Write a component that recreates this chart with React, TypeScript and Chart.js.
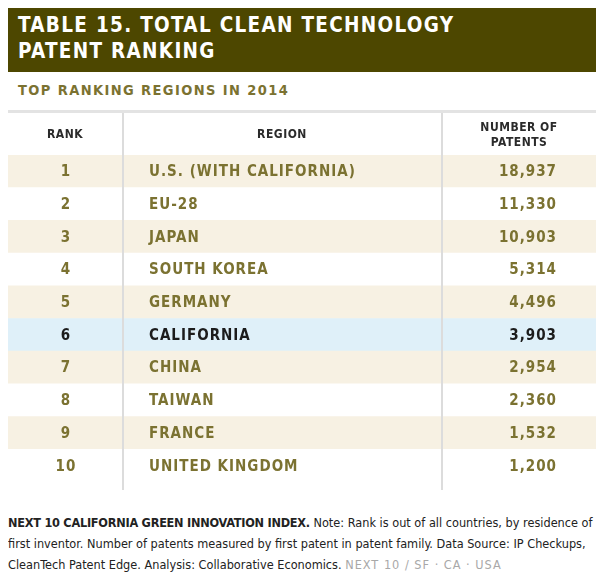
import React, { useEffect, useRef } from "react";
import { Chart, registerables } from "chart.js";

Chart.register(...registerables);

const ranks = ["1", "2", "3", "4", "5", "6", "7", "8", "9", "10"];
const regions = [
  "U.S. (WITH CALIFORNIA)",
  "EU-28",
  "JAPAN",
  "SOUTH KOREA",
  "GERMANY",
  "CALIFORNIA",
  "CHINA",
  "TAIWAN",
  "FRANCE",
  "UNITED KINGDOM",
];
const patents = [18937, 11330, 10903, 5314, 4496, 3903, 2954, 2360, 1532, 1200];
const highlightRegion = "CALIFORNIA";
const headers = ["RANK", "REGION", ["NUMBER OF", "PATENTS"]];

const FONT = "'DejaVu Sans Condensed', 'DejaVu Sans', sans-serif";
const OLIVE = "#7b7231";
const CREAM = "#f7f1e3";
const BLUE = "#dff0f9";
const LINE = "#dcdcdc";

const tablePlugin = {
  id: "tableText",
  afterDatasetsDraw(chart: any) {
    const ctx = chart.ctx as CanvasRenderingContext2D;
    const y = chart.scales.y;
    const area = chart.chartArea;
    const W = chart.width;
    const col1 = 114;
    const col2 = 433;
    ctx.save();
    // top border
    ctx.fillStyle = "#e3e3e3";
    ctx.fillRect(0, 0, W, 3);
    // vertical lines
    ctx.fillStyle = LINE;
    ctx.fillRect(col1, 3, 2, area.bottom + 8 - 3);
    ctx.fillRect(col2, 3, 2, area.bottom + 8 - 3);
    // header
    ctx.fillStyle = "#2b2b2b";
    ctx.font = `bold 12px ${FONT}`;
    (ctx as any).letterSpacing = "0.5px";
    ctx.textAlign = "center";
    ctx.textBaseline = "middle";
    const hy = (3 + area.top) / 2 + 1;
    ctx.fillText(headers[0] as string, 57, hy);
    ctx.fillText(headers[1] as string, 274, hy);
    const h2 = headers[2] as string[];
    ctx.fillText(h2[0], 511, hy - 7);
    ctx.fillText(h2[1], 511, hy + 8);
    // rows
    ctx.font = `bold 15px ${FONT}`;
    (ctx as any).letterSpacing = "1px";
    regions.forEach((r, i) => {
      const py = y.getPixelForValue(i) + 1;
      ctx.fillStyle = r === highlightRegion ? "#1c1c1c" : OLIVE;
      ctx.textAlign = "center";
      ctx.fillText(ranks[i], 58, py);
      ctx.textAlign = "left";
      ctx.fillText(r, 141, py);
      ctx.textAlign = "right";
      ctx.fillText(patents[i].toLocaleString("en-US"), 549, py);
    });
    ctx.restore();
  },
};

function TableChart() {
  const ref = useRef<HTMLCanvasElement>(null);
  useEffect(() => {
    if (!ref.current) return;
    const chart = new Chart(ref.current, {
      type: "bar",
      data: {
        labels: ranks,
        datasets: [
          {
            data: regions.map(() => 1),
            backgroundColor: regions.map((r, i) =>
              r === highlightRegion ? BLUE : i % 2 === 0 ? CREAM : "#ffffff"
            ),
            borderWidth: 0,
            barPercentage: 1,
            categoryPercentage: 1,
          },
        ],
      },
      options: {
        indexAxis: "y",
        animation: false,
        responsive: false,
        maintainAspectRatio: false,
        layout: { padding: { top: 45, bottom: 10, left: 0, right: 0 } },
        plugins: { legend: { display: false }, tooltip: { enabled: false } },
        events: [],
        scales: {
          x: { display: false, min: 0, max: 1 },
          y: { display: false },
        },
      },
      plugins: [tablePlugin],
    });
    return () => chart.destroy();
  }, []);
  return <canvas ref={ref} width={588} height={382} style={{ display: "block" }} />;
}

export default function App() {
  return (
    <div style={{ width: 588, fontFamily: FONT }}>
      <div
        style={{
          marginTop: -3,
          height: 67,
          boxSizing: "border-box",
          background: "#4d4700",
          color: "#ffffff",
          fontWeight: "bold",
          fontSize: 20.5,
          letterSpacing: "1.3px",
          lineHeight: "26px",
          paddingTop: 7,
          paddingLeft: 10,
        }}
      >
        TABLE 15. TOTAL CLEAN TECHNOLOGY
        <br />
        PATENT RANKING
      </div>
      <div
        style={{
          height: 38,
          lineHeight: "36px",
          paddingLeft: 10,
          color: OLIVE,
          fontWeight: "bold",
          fontSize: 14.5,
          letterSpacing: "1.4px",
        }}
      >
        TOP RANKING REGIONS IN 2014
      </div>
      <TableChart />
      <div
        style={{
          marginTop: 20,
          fontSize: 12.6,
          lineHeight: "21px",
          color: "#222",
          whiteSpace: "nowrap",
        }}
      >
        <b style={{ letterSpacing: "-0.25px" }}>NEXT 10 CALIFORNIA GREEN INNOVATION INDEX.</b> Note: Rank is out of all countries, by residence of
        <br />
        first inventor. Number of patents measured by first patent in patent family. Data Source: IP Checkups,
        <br />
        CleanTech Patent Edge. Analysis: Collaborative Economics.{" "}
        <span style={{ color: "#a8a8a8", letterSpacing: "1px" }}>NEXT 10 / SF · CA · USA</span>
      </div>
    </div>
  );
}
